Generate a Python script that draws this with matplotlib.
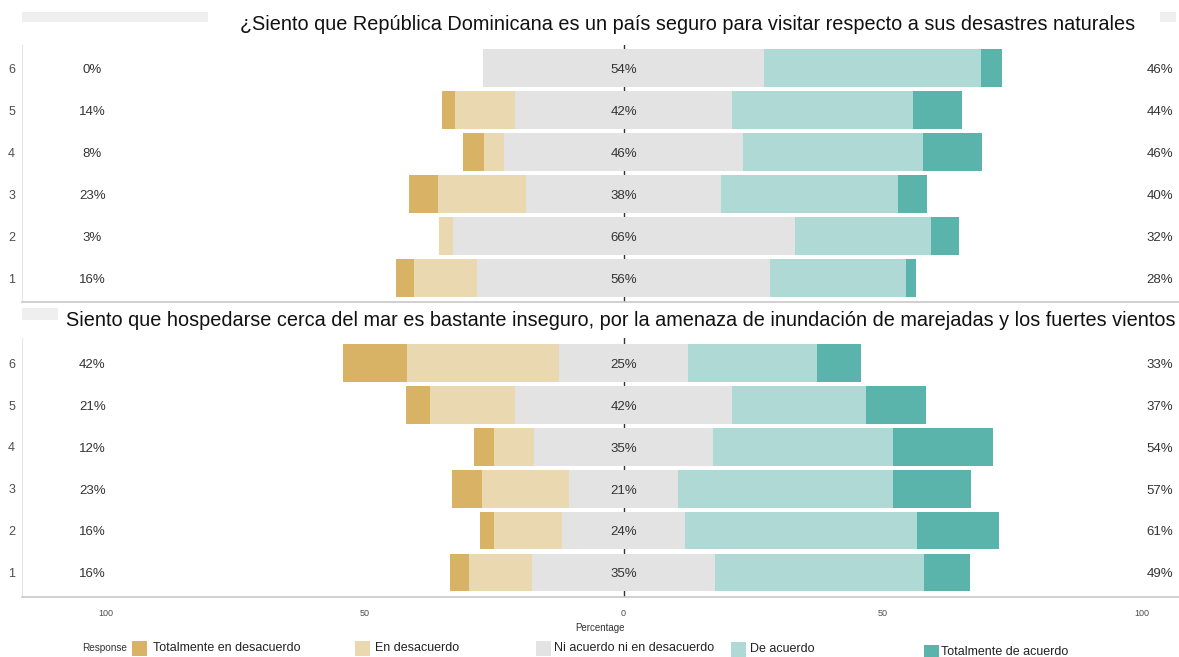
import numpy as np
import matplotlib.pyplot as plt
from matplotlib.patches import Rectangle

plt.rcParams['font.family'] = ['Liberation Sans', 'DejaVu Sans']

# Likert responses, rows are items 1..6
responses = ["Totalmente en desacuerdo", "En desacuerdo", "Ni acuerdo ni en desacuerdo",
             "De acuerdo", "Totalmente de acuerdo"]
colors = ["#D8B365", "#EAD8B0", "#E3E3E3", "#AED9D5", "#5AB4AC"]
items = [1, 2, 3, 4, 5, 6]

title1 = "¿Siento que República Dominicana es un país seguro para visitar respecto a sus desastres naturales"
title2 = ("Siento que hospedarse cerca del mar es bastante inseguro, por la amenaza de "
          "inundación de marejadas y los fuertes vientos")

# percentages per response (rows 1..6)
p1_sd = [3.5, 0.0, 5.6, 3.9, 2.4, 0.0]
p1_d = [12.2, 2.6, 17.0, 3.9, 11.6, 0.0]
p1_n = [56.4, 66.0, 37.8, 46.2, 41.9, 54.2]
p1_a = [26.4, 26.4, 34.0, 34.7, 34.9, 41.9]
p1_sa = [1.8, 5.3, 5.7, 11.4, 9.4, 4.1]

p2_sd = [3.5, 2.6, 5.7, 3.9, 4.6, 12.5]
p2_d = [12.3, 13.2, 16.9, 7.7, 16.3, 29.2]
p2_n = [35.2, 23.7, 20.9, 34.6, 42.0, 25.0]
p2_a = [40.4, 44.8, 41.5, 34.7, 25.7, 24.9]
p2_sa = [8.8, 15.9, 15.1, 19.3, 11.6, 8.5]

W, H = 1179, 657
fig = plt.figure(figsize=(W / 100, H / 100), dpi=100)
fig.patch.set_facecolor("white")


def px_axes(left, top, right, bottom):
    return fig.add_axes([left / W, 1 - bottom / H, (right - left) / W, (bottom - top) / H])


def draw_panel(ax, sd, d, n, a, sa, ylim):
    sd, d, n, a, sa = map(np.array, (sd, d, n, a, sa))
    y = np.array(items)
    ax.axvline(0, color="#333333", lw=1, zorder=0)
    start = -(sd + d + n / 2)
    for vals, col in zip([sd, d, n, a, sa], colors):
        ax.barh(y, vals, left=start, height=0.89, color=col, edgecolor="none", zorder=2)
        start = start + vals
    for yi, lo, mid, hi in zip(y - 0.04, sd + d, n, a + sa):
        ax.text(-102.5, yi, f"{round(lo)}%", ha="center", va="center", fontsize=9.5, color="#333333")
        ax.text(0, yi, f"{round(mid)}%", ha="center", va="center", fontsize=9.5, color="#333333", zorder=3)
        ax.text(103.5, yi, f"{round(hi)}%", ha="center", va="center", fontsize=9.5, color="#333333")
    ax.set_xlim(-116.1, 107.2)
    ax.set_ylim(*ylim)
    ax.set_yticks(items)
    ax.set_yticklabels([str(i) for i in items], fontsize=9, color="#4D4D4D")
    ax.tick_params(axis="y", length=0, pad=5)
    ax.set_facecolor("white")
    for s in ["top", "right"]:
        ax.spines[s].set_visible(False)
    ax.spines["left"].set_color("#E6E6E6")
    ax.spines["bottom"].set_color("#C8C8C8")
    ax.spines["bottom"].set_linewidth(1.2)


ax1 = px_axes(22, 45, 1179, 302)
draw_panel(ax1, p1_sd, p1_d, p1_n, p1_a, p1_sa, (0.43, 6.55))
ax1.set_xticks([])

ax2 = px_axes(22, 338, 1179, 597)
draw_panel(ax2, p2_sd, p2_d, p2_n, p2_a, p2_sa, (0.42, 6.6))
ax2.set_xticks([-100, -50, 0, 50, 100])
ax2.set_xticklabels(["100", "50", "0", "50", "100"], fontsize=6.5, color="#4D4D4D")
ax2.tick_params(axis="x", length=0, pad=9)
ax2.set_xlabel("Percentage", fontsize=7, color="#333333", labelpad=3)

# strip remnants and titles
for (x0, y0, x1, y1) in [(22, 12, 208, 22), (1160, 12, 1176, 22), (22, 308, 58, 320)]:
    fig.add_artist(Rectangle((x0 / W, 1 - y1 / H), (x1 - x0) / W, (y1 - y0) / H,
                             transform=fig.transFigure, color="#EFEFEF", lw=0))
fig.text(240 / W, 1 - 25 / H, title1, fontsize=14.3, ha="left", va="center", color="#111111")
fig.text(66 / W, 1 - 320 / H, title2, fontsize=14.3, ha="left", va="center", color="#111111")

# legend
fig.text(82 / W, 1 - 648 / H, "Response", fontsize=7.2, ha="left", va="center", color="#333333")
leg_patch_x = [132, 355, 536, 731, 924]
leg_text_x = [153, 375, 554, 750, 941]
leg_y = [648, 648, 648, 649, 652]
for px, tx, yy, lab, col in zip(leg_patch_x, leg_text_x, leg_y, responses, colors):
    fig.add_artist(Rectangle((px / W, 1 - (yy + 8) / H), 15 / W, 15 / H,
                             transform=fig.transFigure, color=col, lw=0))
    fig.text(tx / W, 1 - yy / H, lab, fontsize=9, ha="left", va="center", color="#222222")

fig.savefig("out.png", dpi=100)
